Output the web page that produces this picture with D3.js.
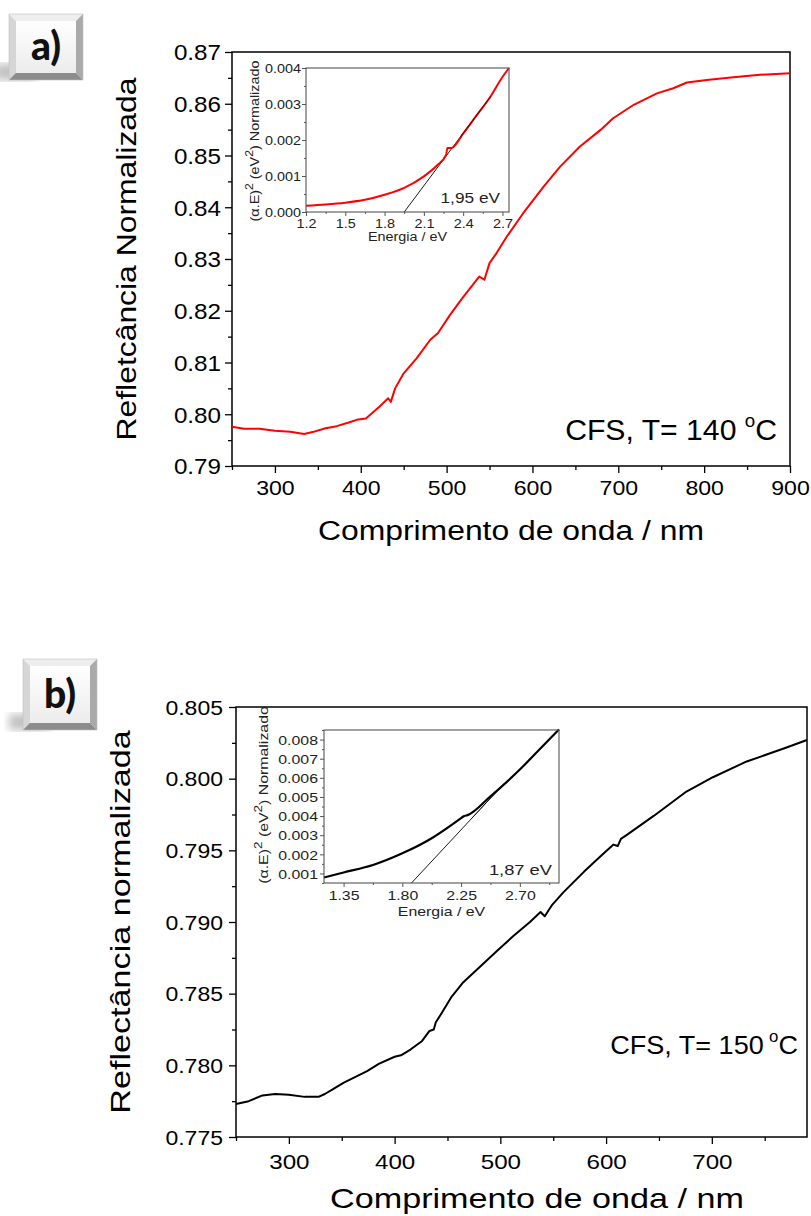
<!DOCTYPE html>
<html><head><meta charset="utf-8">
<script src="https://cdn.jsdelivr.net/npm/d3@7"></script>
<style>
body{margin:0;background:#fff}
svg{display:block}
text{font-family:"Liberation Sans",Arial,sans-serif}
</style>
</head><body>
<svg id="c" width="811" height="1216"></svg>
<script>
// ---------- DATA ----------
// Panel a (CFS, T = 140 °C)
const wavelengthA = [250,264,282,300,318,334,345,359,372,386,397,406,413,422,432,435,440,450,465,481,490,504,519,538,544,550,558,570,589,613,632,655,679,694,718,745,764,780,803,834,865,900];
const reflectanceA = [0.7976,0.7972,0.7972,0.7968,0.7966,0.7962,0.7966,0.7973,0.7977,0.7984,0.7990,0.7992,0.8002,0.8015,0.8031,0.8024,0.8050,0.8079,0.8108,0.8144,0.8157,0.8192,0.8226,0.8266,0.8260,0.8292,0.8311,0.8343,0.8388,0.8440,0.8478,0.8517,0.8549,0.8572,0.8598,0.8620,0.8630,0.8641,0.8646,0.8651,0.8656,0.8659];
const xTicksA = [300,400,500,600,700,800,900];
const xMinorA = [250,350,450,550,650,750,850];
const yTicksA = [0.79,0.80,0.81,0.82,0.83,0.84,0.85,0.86,0.87];
const yMinorA = [0.795,0.805,0.815,0.825,0.835,0.845,0.855,0.865];
// Inset a
const energyA = [1.2,1.35,1.5,1.65,1.8,1.95,2.1,2.2,2.27,2.28,2.31,2.4,2.5,2.6,2.7,2.75];
const alphaEA = [0.000176,0.00021,0.00026,0.00034,0.00048,0.00067,0.00099,0.00129,0.00159,0.00178,0.00178,0.00218,0.00267,0.00316,0.00375,0.004];
const fitEnergyA = [1.95,2.61];
const fitAlphaA = [0,0.00321];
const insetXTicksA = [1.2,1.5,1.8,2.1,2.4,2.7];
const insetXMinorA = [1.35,1.65,1.95,2.25,2.55];
const insetYTicksA = [0,0.001,0.002,0.003,0.004];
const insetYMinorA = [0.0005,0.0015,0.0025,0.0035];
const gapLabelA = "1,95 eV";
const tempA = "140";

// Panel b (CFS, T = 150 °C)
const wavelengthB = [250,262,275,287,300,315,328,334,341,352,363,374,385,400,406,415,426,433,437,439,445,454,465,481,497,512,528,538,542,549,560,579,595,607,611,614,620,645,676,701,733,768,790];
const reflectanceB = [0.7773,0.7775,0.7779,0.7780,0.77795,0.7778,0.7778,0.7780,0.7783,0.7788,0.7792,0.7796,0.7801,0.7806,0.7807,0.7811,0.7817,0.7824,0.7825,0.7830,0.7837,0.7848,0.7858,0.7869,0.7880,0.7890,0.7900,0.7907,0.7904,0.7912,0.7921,0.7935,0.7946,0.7954,0.7953,0.7958,0.7961,0.7974,0.7991,0.8001,0.8012,0.8021,0.8027];
const xTicksB = [300,400,500,600,700];
const xMinorB = [250,350,450,550,650,750];
const yTicksB = [0.775,0.780,0.785,0.790,0.795,0.800,0.805];
const yMinorB = [0.7775,0.7825,0.7875,0.7925,0.7975,0.8025];
// Inset b
const energyB = [1.2,1.35,1.575,1.8,2.025,2.25,2.27,2.3,2.475,2.7,2.85,3.0];
const alphaEB = [0.00079,0.00105,0.00144,0.00205,0.00284,0.00389,0.00399,0.00405,0.00503,0.00643,0.00748,0.00853];
const fitEnergyB = [1.87,2.58];
const fitAlphaB = [0.0005,0.0057];
const insetXTicksB = [1.35,1.80,2.25,2.70];
const insetXMinorB = [1.575,2.025,2.475,2.925];
const insetYTicksB = [0.001,0.002,0.003,0.004,0.005,0.006,0.007,0.008];
const insetYMinorB = [0.0005,0.0015,0.0025,0.0035,0.0045,0.0055,0.0065,0.0075,0.0085];
const gapLabelB = "1,87 eV";
const tempB = "150";

const xTitle = "Comprimento de onda / nm";
const yTitleA = "Refletcância Normalizada";
const yTitleB = "Reflectância normalizada";
const insetXTitle = "Energia / eV";

// ---------- DRAW ----------
const svg = d3.select("#c");
const defs = svg.append("defs");
defs.append("filter").attr("id","blur").append("feGaussianBlur").attr("stdDeviation",4);
const fg = defs.append("linearGradient").attr("id","face").attr("x1",0).attr("y1",0).attr("x2",0).attr("y2",1);
fg.append("stop").attr("offset","0%").attr("stop-color","#ffffff");
fg.append("stop").attr("offset","100%").attr("stop-color","#ececec");

function stretch(sel,k){
  sel.each(function(){
    const L=this.getComputedTextLength();
    d3.select(this).attr("textLength",L*k).attr("lengthAdjust","spacingAndGlyphs");
  });
}

function badge(x,y,w,h,label){
  const g=svg.append("g");
  g.append("rect").attr("x",x-14).attr("y",y+h-16).attr("width",w*0.55).attr("height",16)
    .attr("fill","#777").attr("opacity",0.45).attr("filter","url(#blur)");
  const b=7;
  const poly=(pts,fill)=>g.append("polygon").attr("points",pts.map(p=>p.join(",")).join(" ")).attr("fill",fill);
  poly([[x,y],[x+w,y],[x+w-b,y+b],[x+b,y+b]],"#eeeeee");
  poly([[x,y],[x+b,y+b],[x+b,y+h-b],[x,y+h]],"#d6d6d6");
  poly([[x+w,y],[x+w,y+h],[x+w-b,y+h-b],[x+w-b,y+b]],"#aaaaaa");
  poly([[x,y+h],[x+w,y+h],[x+w-b,y+h-b],[x+b,y+h-b]],"#8c8c8c");
  g.append("rect").attr("x",x+b).attr("y",y+b).attr("width",w-2*b).attr("height",h-2*b).attr("fill","url(#face)");
  g.append("rect").attr("x",x).attr("y",y).attr("width",w).attr("height",h).attr("fill","none").attr("stroke","#c0c0c0").attr("stroke-width",0.6);
  g.append("text").attr("x",x+w/2).attr("y",y+h/2+13).attr("text-anchor","middle")
    .style("font-family","Lato, 'Open Sans', sans-serif").style("font-weight","900").style("font-size","39px").attr("fill","#111").text(label);
}

function drawMain(p){
  const g=svg.append("g");
  const x=d3.scaleLinear().domain(p.xDomain).range([p.left,p.right]);
  const y=d3.scaleLinear().domain(p.yDomain).range([p.bottom,p.top]);
  const xm=g.append("g").attr("transform",`translate(0,${p.bottom})`).call(d3.axisBottom(x).tickValues(p.xMinor).tickSize(4).tickFormat(""));
  const ym=g.append("g").attr("transform",`translate(${p.left},0)`).call(d3.axisLeft(y).tickValues(p.yMinor).tickSize(4).tickFormat(""));
  const xa=g.append("g").attr("transform",`translate(0,${p.bottom})`).call(d3.axisBottom(x).tickValues(p.xTicks).tickSize(7).tickFormat(d3.format("d")));
  const ya=g.append("g").attr("transform",`translate(${p.left},0)`).call(d3.axisLeft(y).tickValues(p.yTicks).tickSize(7).tickFormat(d3.format(p.yFmt)));
  [xm,ym,xa,ya].forEach(a=>{a.select(".domain").remove();a.selectAll("line").attr("stroke","#000").attr("stroke-width",1.3);});
  xa.selectAll("text").attr("y",p.xLabDy).attr("dy",0).attr("fill","#000").style("font-size",p.xTickFont+"px").style("font-family","Liberation Sans");
  ya.selectAll("text").attr("x",-p.yLabGap).attr("dy","0.36em").attr("fill","#000").style("font-size",p.yTickFont+"px").style("font-family","Liberation Sans");
  stretch(xa.selectAll("text"),p.kTick);
  stretch(ya.selectAll("text"),p.kTick);
  g.append("rect").attr("x",p.left).attr("y",p.top).attr("width",p.right-p.left).attr("height",p.bottom-p.top)
    .attr("fill","none").attr("stroke","#000").attr("stroke-width",1.5);
  const line=d3.line().x(d=>x(d[0])).y(d=>y(d[1]));
  g.append("path").datum(d3.zip(p.xs,p.ys)).attr("d",line).attr("fill","none").attr("stroke",p.color).attr("stroke-width",2).attr("stroke-linejoin","round");
  const xt=g.append("text").attr("x",p.xTitleX).attr("y",p.xTitleY).attr("text-anchor","middle").style("font-size",p.titleFont+"px").attr("fill","#000").text(xTitle);
  stretch(xt,p.kTitle);
  const yt=g.append("text").attr("transform",`translate(${p.yTitleX},${p.yTitleY}) rotate(-90)`).attr("text-anchor","middle").style("font-size",p.titleFont+"px").attr("fill","#000").text(p.yTitle);
  stretch(yt,p.kTitle);
  const ct=g.append("text").attr("x",p.cfsX).attr("y",p.cfsY).attr("text-anchor","end").style("font-size",p.cfsFont+"px").attr("fill","#000");
  ct.append("tspan").text("CFS, T= "+p.temp+p.tempGap);
  ct.append("tspan").attr("dy",-p.cfsFont*0.45).style("font-size",(p.cfsFont*0.62)+"px").text("o");
  ct.append("tspan").attr("dy",p.cfsFont*0.45).text("C");
  stretch(ct,p.kCfs);
}

function drawInset(p){
  const g=svg.append("g");
  const x=d3.scaleLinear().domain(p.xDomain).range([p.left,p.right]);
  const y=d3.scaleLinear().domain(p.yDomain).range([p.bottom,p.top]);
  g.append("rect").attr("x",p.left).attr("y",p.top).attr("width",p.right-p.left).attr("height",p.bottom-p.top).attr("fill","#fff");
  const xm=g.append("g").attr("transform",`translate(0,${p.bottom})`).call(d3.axisBottom(x).tickValues(p.xMinor).tickSize(2).tickFormat(""));
  const ym=g.append("g").attr("transform",`translate(${p.left},0)`).call(d3.axisLeft(y).tickValues(p.yMinor).tickSize(2).tickFormat(""));
  const xa=g.append("g").attr("transform",`translate(0,${p.bottom})`).call(d3.axisBottom(x).tickValues(p.xTicks).tickSize(4).tickFormat(d3.format(p.xFmt)));
  const ya=g.append("g").attr("transform",`translate(${p.left},0)`).call(d3.axisLeft(y).tickValues(p.yTicks).tickSize(4).tickFormat(d3.format(p.yFmt)));
  [xm,ym,xa,ya].forEach(a=>{a.select(".domain").remove();a.selectAll("line").attr("stroke","#555").attr("stroke-width",1);});
  xa.selectAll("text").attr("y",p.xLabDy).attr("dy",0).attr("fill","#222").style("font-size",p.font+"px").style("font-family","Liberation Sans");
  ya.selectAll("text").attr("x",-p.yLabGap).attr("dy","0.36em").attr("fill","#222").style("font-size",p.font+"px").style("font-family","Liberation Sans");
  stretch(xa.selectAll("text"),p.k);
  stretch(ya.selectAll("text"),p.k);
  const lin=d3.line().x(d=>x(d[0])).y(d=>y(d[1]));
  const smooth=d3.line().x(d=>x(d[0])).y(d=>y(d[1])).curve(d3.curveMonotoneX);
  g.append("path").datum(d3.zip(p.fitX,p.fitY)).attr("d",lin).attr("fill","none").attr("stroke","#000").attr("stroke-width",0.9);
  g.append("path").datum(d3.zip(p.xs,p.ys)).attr("d",smooth).attr("fill","none").attr("stroke",p.color).attr("stroke-width",p.lw).attr("stroke-linejoin","round");
  g.append("path").datum(d3.zip(p.fitX,p.fitY).slice(-1).concat([[p.fitX[1]-(p.fitX[1]-p.fitX[0])*0.35,p.fitY[1]-(p.fitY[1]-p.fitY[0])*0.35]])).attr("d",lin).attr("fill","none").attr("stroke","#000").attr("stroke-width",0.8).attr("opacity",0.8);
  g.append("rect").attr("x",p.left).attr("y",p.top).attr("width",p.right-p.left).attr("height",p.bottom-p.top)
    .attr("fill","none").attr("stroke","#555").attr("stroke-width",1.1);
  const gl=g.append("text").attr("x",p.gapX).attr("y",p.gapY).attr("text-anchor","end").style("font-size",p.gapFont+"px").attr("fill","#222").text(p.gapLabel);
  stretch(gl,p.k);
  const xt=g.append("text").attr("x",(p.left+p.right)/2).attr("y",p.xTitleY).attr("text-anchor","middle").style("font-size",p.font+"px").attr("fill","#222").text(insetXTitle);
  stretch(xt,p.k);
  const yt=g.append("text").attr("transform",`translate(${p.yTitleX},${p.yTitleY}) rotate(-90)`).attr("text-anchor","middle").style("font-size",p.font+"px").attr("fill","#222");
  yt.append("tspan").text("(α.E)");
  yt.append("tspan").attr("dy",-p.font*0.5).style("font-size",(p.font*0.85)+"px").text("2");
  yt.append("tspan").attr("dy",p.font*0.5).text(" (eV");
  yt.append("tspan").attr("dy",-p.font*0.5).style("font-size",(p.font*0.85)+"px").text("2");
  yt.append("tspan").attr("dy",p.font*0.5).text(") Normalizado");
  stretch(yt,p.k);
}

// Panel a
drawMain({left:232,right:790,top:52,bottom:466,xDomain:[250,900],yDomain:[0.79,0.87],
  xTicks:xTicksA,xMinor:xMinorA,yTicks:yTicksA,yMinor:yMinorA,yFmt:".2f",
  xs:wavelengthA,ys:reflectanceA,color:"#ff0000",
  xLabDy:29,yLabGap:11,xTickFont:21,yTickFont:22,kTick:1.1,
  xTitleX:511,xTitleY:540,yTitleX:136,yTitleY:259,yTitle:yTitleA,titleFont:27,kTitle:1.18,
  cfsX:777,cfsY:440,cfsFont:29,kCfs:1.04,temp:tempA,tempGap:" "});
drawInset({left:306,right:509,top:68,bottom:212,xDomain:[1.2,2.75],yDomain:[0,0.004],
  xTicks:insetXTicksA,xMinor:insetXMinorA,yTicks:insetYTicksA,yMinor:insetYMinorA,xFmt:".1f",yFmt:".3f",
  xs:energyA,ys:alphaEA,fitX:fitEnergyA,fitY:fitAlphaA,color:"#ff0000",lw:2,
  font:12.5,k:1.15,xLabDy:16,yLabGap:5,xTitleY:241,yTitleX:259,yTitleY:141,
  gapLabel:gapLabelA,gapX:500,gapY:203,gapFont:15});

// Panel b
drawMain({left:236,right:807,top:707,bottom:1137,xDomain:[250,790],yDomain:[0.775,0.805],
  xTicks:xTicksB,xMinor:xMinorB,yTicks:yTicksB,yMinor:yMinorB,yFmt:".3f",
  xs:wavelengthB,ys:reflectanceB,color:"#000",
  xLabDy:32,yLabGap:13,xTickFont:21,yTickFont:20,kTick:1.15,
  xTitleX:537,xTitleY:1208,yTitleX:130,yTitleY:922,yTitle:yTitleB,titleFont:28,kTitle:1.22,
  cfsX:798,cfsY:1054,cfsFont:26,kCfs:1.04,temp:tempB,tempGap:"\u2009"});
drawInset({left:324,right:559,top:730,bottom:883,xDomain:[1.2,3.0],yDomain:[0.0005,0.0085],
  xTicks:insetXTicksB,xMinor:insetXMinorB,yTicks:insetYTicksB,yMinor:insetYMinorB,xFmt:".2f",yFmt:".3f",
  xs:energyB,ys:alphaEB,fitX:fitEnergyB,fitY:fitAlphaB,color:"#000",lw:2.2,
  font:13,k:1.22,xLabDy:17,yLabGap:6,xTitleY:916,yTitleX:268,yTitleY:795,
  gapLabel:gapLabelB,gapX:552,gapY:875,gapFont:15});

badge(9,14,74,66,"a)");
badge(23,659,74,71,"b)");
</script>
</body></html>
